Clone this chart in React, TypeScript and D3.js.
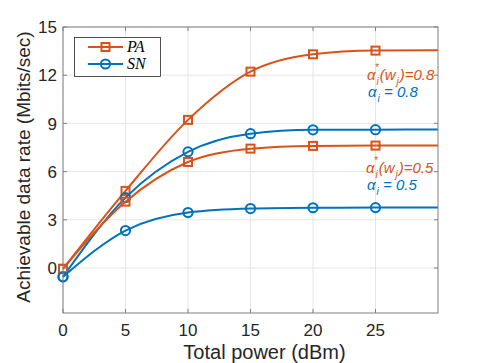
import React, { useRef, useEffect } from "react";
import * as d3 from "d3";

const WIDTH = 485;
const HEIGHT = 363;
const MARGIN = { top: 27, right: 47, bottom: 50, left: 63 };

const ORANGE = "#D95319";
const BLUE = "#0072BD";
const FONT = "'Liberation Sans', Arial, Helvetica, sans-serif";

// marker positions (dBm) and the line's end point
const powers = [0, 5, 10, 15, 20, 25];
const lineEnd = 30;

const paHigh = [-0.05, 4.8, 9.22, 12.22, 13.3, 13.53];
const snHigh = [-0.55, 4.38, 7.23, 8.36, 8.6, 8.61];
const paLow = [-0.05, 4.13, 6.6, 7.43, 7.6, 7.62];
const snLow = [-0.55, 2.33, 3.45, 3.7, 3.75, 3.76];
const endValues = [13.55, 8.62, 7.63, 3.76];

const xTicks = [0, 5, 10, 15, 20, 25];
const yTicks = [0, 3, 6, 9, 12, 15];

export default function App() {
  const svgRef = useRef<SVGSVGElement>(null);

  useEffect(() => {
    const svg = d3.select(svgRef.current);
    svg.selectAll("*").remove();

    const innerWidth = WIDTH - MARGIN.left - MARGIN.right;
    const innerHeight = HEIGHT - MARGIN.top - MARGIN.bottom;

    const x = d3.scaleLinear().domain([0, 30]).range([0, innerWidth]);
    const y = d3.scaleLinear().domain([-2.8, 15]).range([innerHeight, 0]);

    const g = svg
      .append("g")
      .attr("transform", `translate(${MARGIN.left},${MARGIN.top})`);

    g.append("rect")
      .attr("width", innerWidth)
      .attr("height", innerHeight)
      .attr("fill", "#fff");

    // grid
    xTicks.forEach((t) => {
      g.append("line")
        .attr("x1", x(t)).attr("x2", x(t))
        .attr("y1", 0).attr("y2", innerHeight)
        .attr("stroke", "#e6e6e6").attr("stroke-width", 1);
    });
    yTicks.forEach((t) => {
      g.append("line")
        .attr("x1", 0).attr("x2", innerWidth)
        .attr("y1", y(t)).attr("y2", y(t))
        .attr("stroke", "#e6e6e6").attr("stroke-width", 1);
    });

    // series
    const series = [
      { values: paHigh, end: endValues[0], color: ORANGE, marker: "square" },
      { values: snHigh, end: endValues[1], color: BLUE, marker: "circle" },
      { values: paLow, end: endValues[2], color: ORANGE, marker: "square" },
      { values: snLow, end: endValues[3], color: BLUE, marker: "circle" },
    ];

    const line = d3
      .line<[number, number]>()
      .x((d) => x(d[0]))
      .y((d) => y(d[1]))
      .curve(d3.curveMonotoneX);

    series.forEach((s) => {
      const pts: [number, number][] = powers.map((p, i) => [p, s.values[i]]);
      pts.push([lineEnd, s.end]);
      g.append("path")
        .attr("d", line(pts))
        .attr("fill", "none")
        .attr("stroke", s.color)
        .attr("stroke-width", 2);

      powers.forEach((p, i) => {
        const cx = x(p);
        const cy = y(s.values[i]);
        if (s.marker === "square") {
          g.append("rect")
            .attr("x", cx - 4).attr("y", cy - 4)
            .attr("width", 8).attr("height", 8)
            .attr("fill", "none")
            .attr("stroke", s.color).attr("stroke-width", 2);
        } else {
          g.append("circle")
            .attr("cx", cx).attr("cy", cy).attr("r", 4.6)
            .attr("fill", "none")
            .attr("stroke", s.color).attr("stroke-width", 2);
        }
      });
    });

    // axes box
    const axisColor = "#808080";
    g.append("rect")
      .attr("width", innerWidth)
      .attr("height", innerHeight)
      .attr("fill", "none")
      .attr("stroke", axisColor)
      .attr("stroke-width", 1);

    // ticks (inward, both sides)
    xTicks.forEach((t) => {
      g.append("line").attr("x1", x(t)).attr("x2", x(t))
        .attr("y1", innerHeight).attr("y2", innerHeight - 4)
        .attr("stroke", axisColor);
      g.append("line").attr("x1", x(t)).attr("x2", x(t))
        .attr("y1", 0).attr("y2", 4)
        .attr("stroke", axisColor);
      g.append("text")
        .attr("x", x(t)).attr("y", innerHeight + 23)
        .attr("text-anchor", "middle")
        .attr("font-family", FONT).attr("font-size", 17)
        .attr("fill", "#262626")
        .text(t);
    });
    yTicks.forEach((t) => {
      g.append("line").attr("x1", 0).attr("x2", 4)
        .attr("y1", y(t)).attr("y2", y(t))
        .attr("stroke", axisColor);
      g.append("line").attr("x1", innerWidth).attr("x2", innerWidth - 4)
        .attr("y1", y(t)).attr("y2", y(t))
        .attr("stroke", axisColor);
      g.append("text")
        .attr("x", -6).attr("y", y(t))
        .attr("dy", "0.36em")
        .attr("text-anchor", "end")
        .attr("font-family", FONT).attr("font-size", 17)
        .attr("fill", "#262626")
        .text(t);
    });

    // axis labels
    svg.append("text")
      .attr("x", MARGIN.left + innerWidth / 2 + 14)
      .attr("y", 359)
      .attr("text-anchor", "middle")
      .attr("font-family", FONT).attr("font-size", 20)
      .attr("fill", "#262626")
      .text("Total power (dBm)");
    svg.append("text")
      .attr("transform", `translate(30,${MARGIN.top + innerHeight / 2 - 3}) rotate(-90)`)
      .attr("text-anchor", "middle")
      .attr("font-family", FONT).attr("font-size", 19)
      .attr("fill", "#262626")
      .text("Achievable data rate (Mbits/sec)");

    // legend
    const legend = svg.append("g");
    legend.append("rect")
      .attr("x", 74.5).attr("y", 37.5)
      .attr("width", 86).attr("height", 39)
      .attr("fill", "#fff")
      .attr("stroke", "#262626").attr("stroke-width", 0.8);
    [
      { label: "PA", color: ORANGE, marker: "square", cy: 47 },
      { label: "SN", color: BLUE, marker: "circle", cy: 64 },
    ].forEach((e) => {
      legend.append("line")
        .attr("x1", 88).attr("x2", 123)
        .attr("y1", e.cy).attr("y2", e.cy)
        .attr("stroke", e.color).attr("stroke-width", 2);
      if (e.marker === "square") {
        legend.append("rect")
          .attr("x", 101.5).attr("y", e.cy - 4)
          .attr("width", 8).attr("height", 8)
          .attr("fill", "none")
          .attr("stroke", e.color).attr("stroke-width", 2);
      } else {
        legend.append("circle")
          .attr("cx", 105.5).attr("cy", e.cy).attr("r", 4.6)
          .attr("fill", "none")
          .attr("stroke", e.color).attr("stroke-width", 2);
      }
      legend.append("text")
        .attr("x", 127).attr("y", e.cy + 5)
        .attr("font-family", "'Liberation Serif', 'Times New Roman', serif")
        .attr("font-style", "italic")
        .attr("font-size", 16)
        .attr("fill", "#000")
        .text(e.label);
    });

    // annotations
    const annotate = (ax: number, by: number, val: string) => {
      const t1 = svg.append("text")
        .attr("x", ax).attr("y", by)
        .attr("font-family", FONT).attr("font-style", "italic")
        .attr("font-size", 15).attr("fill", ORANGE);
      t1.append("tspan").text("α");
      t1.append("tspan").attr("font-size", 10).attr("dx", 1).attr("dy", 5).text("i");
      t1.append("tspan").attr("font-size", 10).attr("dx", -4).attr("dy", -14).text("*");
      t1.append("tspan").attr("dx", 1).attr("dy", 9).text("(w");
      t1.append("tspan").attr("font-size", 10).attr("dx", 1).attr("dy", 5).text("j");
      t1.append("tspan").attr("dx", 1).attr("dy", -5).text(`)=${val}`);

      const t2 = svg.append("text")
        .attr("x", ax + 1).attr("y", by + 17)
        .attr("font-family", FONT).attr("font-style", "italic")
        .attr("font-size", 15).attr("fill", BLUE);
      t2.append("tspan").text("α");
      t2.append("tspan").attr("font-size", 10).attr("dx", 1).attr("dy", 5).text("i");
      t2.append("tspan").attr("dy", -5).text(` = ${val}`);
    };
    annotate(367, 80, "0.8");
    annotate(366, 173, "0.5");
  }, []);

  return <svg ref={svgRef} width={WIDTH} height={HEIGHT} style={{ display: "block", position: "absolute", left: 0, top: 0 }} />;
}
